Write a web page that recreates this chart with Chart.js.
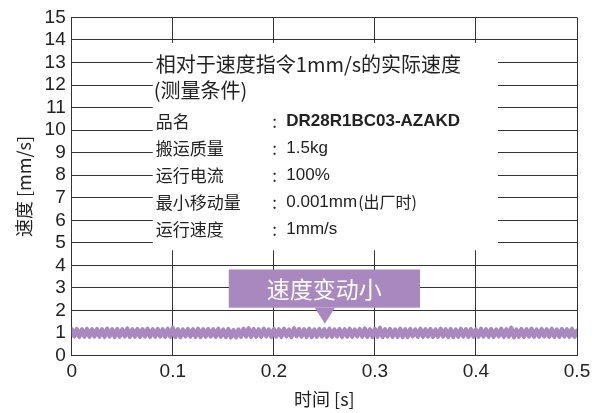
<!DOCTYPE html>
<html>
<head>
<meta charset="utf-8">
<script src="https://cdn.jsdelivr.net/npm/chart.js@4.4.0/dist/chart.umd.min.js"></script>
<style>
  html, body { margin: 0; padding: 0; background: #fff; }
  #wrap { width: 605px; height: 413px; position: relative; }
</style>
</head>
<body>
<div id="wrap"><canvas id="chartSpeed"></canvas></div>
<script>
// 速度变动 - 数据
const SAMPLE_DT = 0.0025; // s
const speedValues = [
  1.17,0.85,1.18,0.83,1.17,0.84,1.19,0.83,1.17,0.85,1.18,0.84,1.17,0.83,1.19,0.85,1.17,0.83,1.18,0.84,
  1.17,0.85,1.20,0.83,1.17,0.84,1.18,0.82,1.17,0.85,1.19,0.83,1.17,0.84,1.18,0.85,1.17,0.83,1.19,0.84,
  1.23,0.83,1.17,0.81,1.16,0.85,1.18,0.84,1.17,0.83,1.19,0.82,1.17,0.84,1.18,0.85,1.17,0.83,1.19,0.84,
  1.16,0.82,1.18,0.80,1.14,0.81,1.16,0.84,1.19,0.85,1.21,0.83,1.18,0.84,1.17,0.83,1.19,0.85,1.16,0.83,
  1.18,0.84,1.17,0.83,1.19,0.85,1.16,0.83,1.21,0.86,1.18,0.84,1.17,0.83,1.19,0.82,1.16,0.84,1.18,0.85,
  1.17,0.83,1.19,0.84,1.16,0.85,1.18,0.83,1.17,0.84,1.19,0.83,1.16,0.85,1.18,0.84,1.20,0.83,1.17,0.82,
  1.19,0.84,1.23,0.83,1.17,0.85,1.18,0.83,1.16,0.84,1.19,0.82,1.17,0.83,1.18,0.85,1.16,0.84,1.19,0.83,
  1.17,0.85,1.18,0.83,1.16,0.84,1.19,0.85,1.17,0.83,1.18,0.82,1.16,0.84,1.19,0.85,1.17,0.83,1.18,0.84,
  1.16,0.83,1.19,0.85,1.17,0.84,1.18,0.83,1.16,0.85,1.19,0.83,1.17,0.84,1.24,0.82,1.16,0.84,1.18,0.83,
  1.17,0.85,1.19,0.83,1.16,0.84,1.18,0.85,1.17,0.83,1.19,0.84,1.16,0.83,1.18,0.85,1.17,0.83,1.19,0.84,
  1.10
];
const xTicks = [0, 0.1, 0.2, 0.3, 0.4, 0.5];
const yTicks = [0,1,2,3,4,5,6,7,8,9,10,11,12,13,14,15];

// 测量条件
const infoTitle = ['相对于速度指令1mm/s的实际速度', '(测量条件)'];
const infoLabels = ['品名', '搬运质量', '运行电流', '最小移动量', '运行速度'];
const infoValues = ['DR28R1BC03-AZAKD', '1.5kg', '100%', '0.001mm(出厂时)', '1mm/s'];
const calloutText = '速度变动小';

const PURPLE = '#a987bf';
const NUM_FONT = "'Liberation Sans Narrow', 'Liberation Sans', Arial, sans-serif";
const CJK_FONT = "'Noto Sans CJK SC', 'Liberation Sans', sans-serif";

const points = speedValues.map((v, i) => ({ x: i * SAMPLE_DT, y: v }));

// 白色信息框 + 紫色标注
const overlayPlugin = {
  id: 'overlay',
  beforeDatasetsDraw(chart) {
    const { ctx, scales: { x, y } } = chart;
    ctx.save();
    // info box (covers the grid)
    const bx0 = x.getPixelForValue(0.0802), bx1 = x.getPixelForValue(0.4218);
    const by0 = y.getPixelForValue(13.87), by1 = y.getPixelForValue(4.67);
    ctx.fillStyle = '#fff';
    ctx.fillRect(bx0, by0, bx1 - bx0, by1 - by0);

    const left = bx0 + 3;
    ctx.fillStyle = '#222';
    ctx.textBaseline = 'middle';
    ctx.textAlign = 'left';
    ctx.font = '20px ' + CJK_FONT;
    ctx.fillText(infoTitle[0], left, y.getPixelForValue(12.92));
    ctx.fillText(infoTitle[1], left - 2, y.getPixelForValue(11.75));

    const rowY = [10.4, 9.2, 8.0, 6.8, 5.6];
    const colonX = x.getPixelForValue(0.1985);
    const valX = x.getPixelForValue(0.2123);
    infoLabels.forEach((lab, i) => {
      const py = y.getPixelForValue(rowY[i]);
      ctx.font = '17px ' + CJK_FONT;
      ctx.fillText(lab, left, py);
      ctx.fillText(':', colonX, py);
      ctx.font = (i === 0 ? 'bold 17px ' : '17px ') + NUM_FONT;
      if (i === 3) {
        ctx.fillText('0.001mm', valX, py);
        const w = ctx.measureText('0.001mm').width;
        ctx.font = '16px ' + CJK_FONT;
        ctx.fillText('(出厂时)', valX + w + 1, py);
      } else {
        ctx.fillText(infoValues[i], valX, py);
      }
    });

    // callout box
    const cx0 = x.getPixelForValue(0.1554), cx1 = x.getPixelForValue(0.3446);
    const cy0 = y.getPixelForValue(3.82), cy1 = y.getPixelForValue(2.125);
    const tipX = x.getPixelForValue(0.2505), tipY = y.getPixelForValue(1.41);
    ctx.fillStyle = PURPLE;
    ctx.fillRect(cx0, cy0, cx1 - cx0, cy1 - cy0);
    ctx.beginPath();
    ctx.moveTo(tipX - 10, cy1);
    ctx.lineTo(tipX + 10, cy1);
    ctx.lineTo(tipX, tipY);
    ctx.closePath();
    ctx.fill();
    ctx.fillStyle = '#fff';
    ctx.textAlign = 'center';
    ctx.font = '23px ' + CJK_FONT;
    ctx.fillText(calloutText, (cx0 + cx1) / 2, (cy0 + cy1) / 2 + 1);
    ctx.restore();
  }
};

new Chart(document.getElementById('chartSpeed'), {
  type: 'line',
  data: {
    datasets: [{
      data: points,
      borderColor: PURPLE,
      borderWidth: 4.5,
      borderJoinStyle: 'round',
      borderCapStyle: 'round',
      pointRadius: 0,
      tension: 0.2,
      fill: false
    }]
  },
  options: {
    responsive: true,
    maintainAspectRatio: false,
    animation: false,
    layout: { padding: { top: 10, right: 28, bottom: 3, left: 13 } },
    plugins: {
      legend: { display: false },
      tooltip: { enabled: false }
    },
    scales: {
      x: {
        type: 'linear',
        min: 0,
        max: 0.5,
        afterBuildTicks(axis) { axis.ticks = xTicks.map(v => ({ value: v })); },
        grid: { color: '#333', lineWidth: 1, drawTicks: false },
        border: { color: '#333', width: 1 },
        ticks: {
          color: '#222',
          padding: 5,
          autoSkip: false,
          maxRotation: 0,
          font: { family: NUM_FONT, size: 19 },
          callback: v => String(v)
        },
        title: {
          display: true,
          text: '时间 [s]',
          color: '#222',
          padding: { top: 0, bottom: 0 },
          font: { family: CJK_FONT, size: 18 }
        }
      },
      y: {
        min: 0,
        max: 15,
        afterBuildTicks(axis) { axis.ticks = yTicks.map(v => ({ value: v })); },
        grid: { color: '#333', lineWidth: 1, drawTicks: false },
        border: { color: '#333', width: 1 },
        ticks: {
          color: '#222',
          padding: 6,
          autoSkip: false,
          font: { family: NUM_FONT, size: 19 }
        },
        title: {
          display: true,
          text: '速度 [mm/s]',
          color: '#222',
          padding: { top: 0, bottom: 4 },
          font: { family: CJK_FONT, size: 18 }
        }
      }
    }
  },
  plugins: [overlayPlugin]
});
</script>
</body>
</html>
